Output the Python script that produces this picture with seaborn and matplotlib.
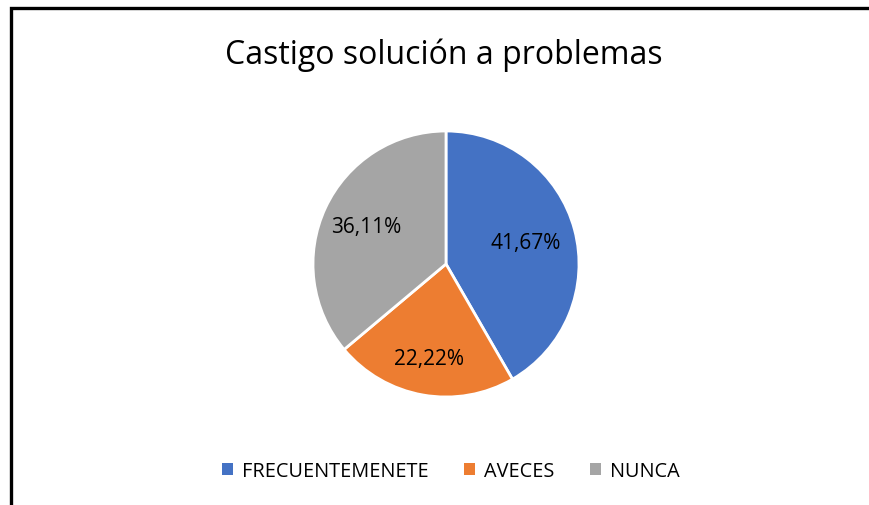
import matplotlib
matplotlib.use("Agg")
import matplotlib.pyplot as plt
import seaborn as sns
import numpy as np
from matplotlib.patches import Rectangle, Patch

# datos del gráfico
categorias = ['FRECUENTEMENETE', 'AVECES', 'NUNCA']
porcentajes = [41.67, 22.22, 36.11]
colores = ['#4472C4', '#ED7D31', '#A5A5A5']
titulo = 'Castigo solución a problemas'

sns.set_theme(style='white')
plt.rcParams['font.family'] = ['Open Sans', 'DejaVu Sans']
plt.rcParams['text.color'] = 'black'

fig = plt.figure(figsize=(8.69, 5.06), dpi=100)
W, H = 869, 506

# marco del gráfico (solo arriba e izquierda visibles)
fig.patches.append(Rectangle((10.5 / W, -0.1), 1.2, (H - 9) / H + 0.1,
                             transform=fig.transFigure, fill=False,
                             edgecolor='black', linewidth=2.4))

fig.text(444 / W, 1 - 55 / H, titulo, ha='center', va='center',
         fontsize=23, color='black')

ax = fig.add_axes([313 / W, 108 / H, 266 / W, 266 / H])
ax.pie(porcentajes, colors=colores, startangle=90, counterclock=False,
       wedgeprops=dict(edgecolor='white', linewidth=2))

# etiquetas con coma decimal
dist = [0.62, 0.72, 0.66]
ang0 = 90
for p, d in zip(porcentajes, dist):
    mid = np.deg2rad(ang0 - p * 3.6 / 2)
    ax.text(d * np.cos(mid), d * np.sin(mid), f'{p:.2f}%'.replace('.', ','),
            ha='center', va='center', fontsize=15, color='black')
    ang0 -= p * 3.6
ax.set_xlim(-1, 1)
ax.set_ylim(-1, 1)
ax.set_aspect('equal')
ax.axis('off')

handles = [Patch(facecolor=c, edgecolor='none') for c in colores]
leg = fig.legend(handles, categorias, loc='center', bbox_to_anchor=(451 / W, 1 - 472 / H),
                 ncol=3, frameon=False, fontsize=14.3, handlelength=0.55,
                 handleheight=0.55, handletextpad=0.45, columnspacing=1.8)
for t in leg.get_texts():
    t.set_color('black')

fig.savefig('out.png', dpi=100)
